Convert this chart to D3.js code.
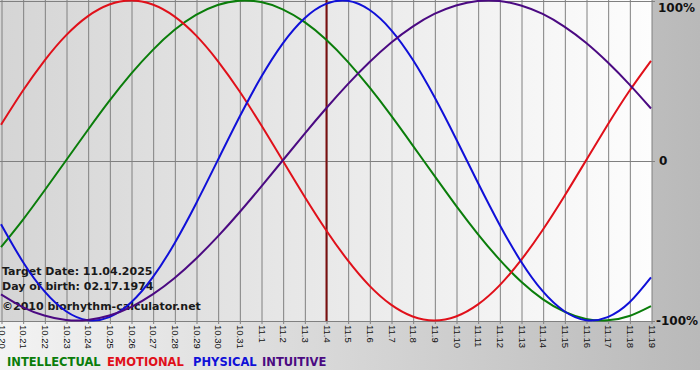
<!DOCTYPE html>
<html><head><meta charset="utf-8">
<script src="https://cdn.jsdelivr.net/npm/d3@7"></script>
<style>html,body{margin:0;padding:0;background:#fff;}svg{display:block;}</style>
</head><body>
<script>
const dates = ["10.20","10.21","10.22","10.23","10.24","10.25","10.26","10.27","10.28","10.29","10.30","10.31",
  "11.1","11.2","11.3","11.4","11.5","11.6","11.7","11.8","11.9","11.10","11.11","11.12","11.13","11.14","11.15","11.16","11.17","11.18","11.19"];
const intellectual = [-0.541,-0.372,-0.189,0,0.189,0.372,0.541,0.690,0.815,0.910,0.972,0.999,0.990,0.945,0.866,0.756,0.618,0.458,0.282,0.095,-0.095,-0.282,-0.458,-0.618,-0.756,-0.866,-0.945,-0.990,-0.999,-0.972,-0.910];
const emotional = [0.223,0.434,0.623,0.782,0.901,0.975,1.0,0.975,0.901,0.782,0.623,0.434,0.223,0,-0.223,-0.434,-0.623,-0.782,-0.901,-0.975,-1.0,-0.975,-0.901,-0.782,-0.623,-0.434,-0.223,0,0.223,0.434,0.623];
const physical = [-0.398,-0.631,-0.817,-0.942,-0.998,-0.979,-0.888,-0.731,-0.520,-0.270,0,0.270,0.520,0.731,0.888,0.979,0.998,0.942,0.817,0.631,0.398,0.136,-0.136,-0.398,-0.631,-0.817,-0.942,-0.998,-0.979,-0.888,-0.731];
const intuitive = [-0.837,-0.916,-0.969,-0.997,-0.997,-0.969,-0.916,-0.837,-0.736,-0.614,-0.476,-0.325,-0.165,0,0.165,0.325,0.476,0.614,0.736,0.837,0.916,0.969,0.997,0.997,0.969,0.916,0.837,0.736,0.614,0.476,0.325];
const yTicks = [1, 0, -1];
const yTickLabels = ["100%", "0", "-100%"];
const targetDate = "11.4";
const infoLines = ["Target Date: 11.04.2025", "Day of birth: 02.17.1974", "\u00a92010 biorhythm-calculator.net"];
const legendNames = ["INTELLECTUAL", "EMOTIONAL", "PHYSICAL", "INTUITIVE"];

const W = 700, H = 380;
const plot = {l: 0, t: 0, r: 652, b: 321};
const svg = d3.select("body").append("svg").attr("width", W).attr("height", H)
  .style("font-family", "'DejaVu Sans', Verdana, sans-serif");
const defs = svg.append("defs");
const g1 = defs.append("linearGradient").attr("id", "bg").attr("x1", "0").attr("x2", "1").attr("y1", "0").attr("y2", "0");
g1.append("stop").attr("offset", "0").attr("stop-color", "#f3f3f3");
g1.append("stop").attr("offset", "1").attr("stop-color", "#b9b9b9");
const g2 = defs.append("linearGradient").attr("id", "pg").attr("x1", "0").attr("x2", "1").attr("y1", "0").attr("y2", "0");
g2.append("stop").attr("offset", "0").attr("stop-color", "#d5d5d5");
g2.append("stop").attr("offset", "1").attr("stop-color", "#fdfdfd");
defs.append("clipPath").attr("id", "clip").append("rect")
  .attr("x", plot.l).attr("y", plot.t).attr("width", plot.r - plot.l).attr("height", plot.b - plot.t + 1);

svg.append("rect").attr("x", 0).attr("y", 0).attr("width", W).attr("height", 370).attr("fill", "url(#bg)");
svg.append("rect").attr("x", plot.l).attr("y", plot.t).attr("width", plot.r - plot.l).attr("height", plot.b - plot.t).attr("fill", "url(#pg)");

const x = d3.scalePoint().domain(dates).range([1, 651]);
const y = d3.scaleLinear().domain([-1, 1]).range([320.5, 0.5]);

// vertical grid + x axis
const xAxis = d3.axisBottom(x).tickSize(324).tickSizeOuter(0);
const xg = svg.append("g").call(xAxis);
xg.select(".domain").remove();
xg.selectAll(".tick line").attr("stroke", "#808080").attr("x1", 0.5).attr("x2", 0.5);
xg.selectAll(".tick text")
  .attr("x", 0).attr("y", 0).attr("dy", "0.35em")
  .attr("transform", "translate(0.5,325) rotate(90)")
  .style("text-anchor", "start")
  .attr("fill", "#111").attr("font-size", 9.5).attr("font-family", null);

// horizontal grid lines
svg.append("g").selectAll("line").data(yTicks).join("line")
  .attr("x1", plot.l).attr("x2", plot.r + 3)
  .attr("y1", d => Math.round(y(d)) + 0.5).attr("y2", d => Math.round(y(d)) + 0.5)
  .attr("stroke", "#808080");

// y labels
svg.append("g").selectAll("text").data(yTicks).join("text")
  .attr("x", (d, i) => i === 1 ? 659 : (i === 0 ? 658 : 656))
  .attr("y", d => Math.min(Math.max(y(d), 8), 322))
  .attr("dy", "0.35em")
  .attr("font-size", 12).attr("font-weight", "bold").attr("fill", "#111")
  .text((d, i) => yTickLabels[i]);

// target line
svg.append("line").attr("x1", x(targetDate) + 0.5).attr("x2", x(targetDate) + 0.5)
  .attr("y1", plot.t).attr("y2", plot.b).attr("stroke", "#7a0f0f").attr("stroke-width", 2);

// info text
svg.append("g").selectAll("text").data(infoLines).join("text")
  .attr("x", 2).attr("y", (d, i) => [275, 290, 310][i])
  .attr("font-size", 11).attr("font-weight", "bold").attr("fill", "#1a1a1a")
  .text(d => d);

// curves
const series = [
  {name: legendNames[0], values: intellectual, color: "#0a7d0a"},
  {name: legendNames[1], values: emotional, color: "#e0101a"},
  {name: legendNames[2], values: physical, color: "#1010d8"},
  {name: legendNames[3], values: intuitive, color: "#4b0a82"}
];
const line = d3.line().x((d, i) => x(dates[i])).y(d => y(d)).curve(d3.curveNatural);
svg.append("g").attr("clip-path", "url(#clip)").selectAll("path").data(series).join("path")
  .attr("d", s => line(s.values)).attr("fill", "none").attr("stroke", s => s.color).attr("stroke-width", 2);

// legend
const legendX = [7, 107, 193, 262];
svg.append("g").selectAll("text").data(series).join("text")
  .attr("x", (s, i) => legendX[i]).attr("y", 366)
  .attr("font-size", 11.5).attr("font-weight", "bold")
  .attr("fill", s => s.color).text(s => s.name);
</script>
</body></html>
